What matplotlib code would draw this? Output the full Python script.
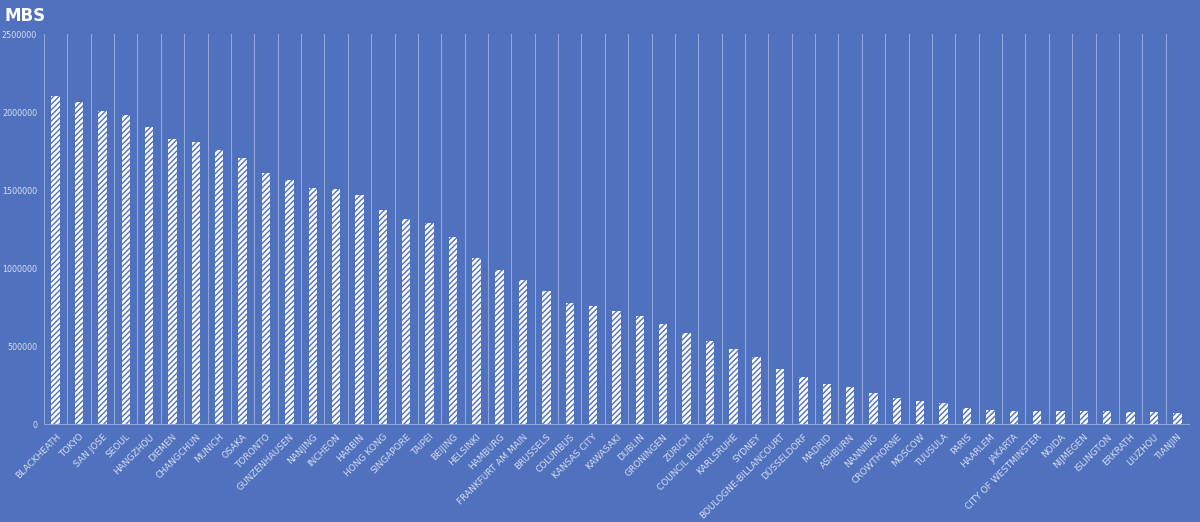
import matplotlib.pyplot as plt
import numpy as np

cities = ["BLACKHEATH", "TOKYO", "SAN JOSE", "SEOUL", "HANGZHOU", "DIEMEN",
          "CHANGCHUN", "MUNICH", "OSAKA", "TORONTO", "GUNZENHAUSEN", "NANJING",
          "INCHEON", "HARBIN", "HONG KONG", "SINGAPORE", "TAIPEI", "BEIJING",
          "HELSINKI", "HAMBURG", "FRANKFURT AM MAIN", "BRUSSELS", "COLUMBUS",
          "KANSAS CITY", "KAWASAKI", "DUBLIN", "GRONINGEN", "ZÜRICH",
          "COUNCIL BLUFFS", "KARLSRUHE", "SYDNEY", "BOULOGNE-BILLANCOURT",
          "DÜSSELDORF", "MADRID", "ASHBURN", "NANNING", "CROWTHORNE", "MOSCOW",
          "TUUSULA", "PARIS", "HAARLEM", "JAKARTA", "CITY OF WESTMINSTER",
          "NOIDA", "NIJMEGEN", "ISLINGTON", "ERKRATH", "LIUZHOU", "TIANJIN"]
mbs = [2100000, 2066000, 2004000, 1979000, 1903000, 1827000,
       1810000, 1756000, 1703000, 1611000, 1566000, 1513000,
       1508000, 1468000, 1372000, 1316000, 1288000, 1197000,
       1062000, 987000, 923000, 853000, 778000,
       759000, 724000, 692000, 641000, 583000,
       530000, 479000, 428000, 353000,
       299000, 256000, 239000, 199000, 167000, 149000,
       135000, 101000, 92000, 83000, 83000,
       83000, 81000, 81000, 77000, 76000, 72000]
yticks = [0, 500000, 1000000, 1500000, 2000000, 2500000]

bg = "#4F71BE"
txt = "#D6DEF0"
plt.rcParams['hatch.linewidth'] = 1.0

fig = plt.figure(figsize=(12, 5.22), dpi=100, facecolor=bg)
ax = fig.add_axes([44/1200, 1-424/522, 1145/1200, 390/522], facecolor=bg)

x = np.arange(len(cities))
ax.bar(x, mbs, width=0.36, color="white", edgecolor=bg, hatch="//////",
       linewidth=0, zorder=3)

ax.set_xlim(-0.5, len(cities) - 0.5)
ax.set_ylim(0, 2500000)
ax.set_yticks(yticks)
ax.set_yticklabels([str(v) for v in yticks])
ax.set_xticks(x)
ax.set_xticklabels(cities, rotation=45, ha="right", rotation_mode="anchor")
ax.set_xticks(np.arange(-0.5, len(cities)), minor=True)
ax.grid(which="minor", axis="x", color="#8FA6D8", linewidth=0.8, zorder=0)
ax.tick_params(axis="both", which="both", length=0)
ax.tick_params(axis="x", colors=txt, labelsize=6.5, pad=6)
ax.tick_params(axis="y", colors=txt, labelsize=5.8, pad=5)
for s in ["top", "right", "left"]:
    ax.spines[s].set_visible(False)
ax.spines["bottom"].set_color("#8FA6D8")

fig.text(5/1200, 1-16/522, "MBS", color="white", fontsize=12,
         fontweight="bold", va="center", ha="left")

fig.savefig("out.png", dpi=100, facecolor=bg)
